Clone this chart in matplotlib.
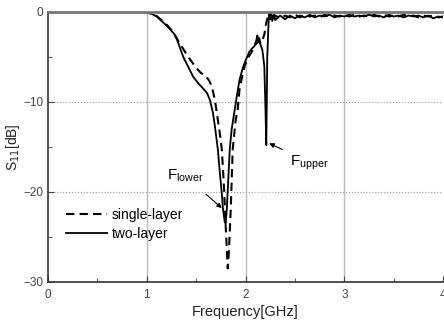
import matplotlib
matplotlib.use("Agg")
import matplotlib.pyplot as plt

plt.rcParams['font.family'] = ['Liberation Sans', 'DejaVu Sans']

# two-layer (solid)
f_two = [0, 0.3, 0.6, 0.9, 1.0, 1.05, 1.1, 1.15, 1.2, 1.25, 1.29, 1.33, 1.37, 1.42,
         1.47, 1.52, 1.57, 1.61, 1.64, 1.67, 1.69, 1.72, 1.74, 1.76, 1.77, 1.79,
         1.80, 1.81, 1.82, 1.84, 1.86, 1.89, 1.92, 1.94, 1.97, 2.0, 2.04, 2.07,
         2.09, 2.11, 2.12, 2.13, 2.14, 2.15, 2.17, 2.19, 2.20, 2.21, 2.215, 2.22,
         2.23, 2.24, 2.25, 2.26, 2.27, 2.29,
         2.3, 2.35, 2.4, 2.45, 2.5, 2.55, 2.6, 2.65, 2.7, 2.75, 2.8, 2.85, 2.9,
         2.95, 3.0, 3.05, 3.1, 3.15, 3.2, 3.25, 3.3, 3.35, 3.4, 3.45, 3.5, 3.55,
         3.6, 3.65, 3.7, 3.75, 3.8, 3.85, 3.9, 3.95, 4.0]
s_two = [0, 0, 0, 0, -0.05, -0.2, -0.5, -1.0, -1.5, -2.1, -2.6, -3.8, -5.0, -6.1,
         -7.2, -7.9, -8.5, -9.0, -9.8, -11.2, -12.7, -15.3, -17.9, -20.2, -21.7, -23.4,
         -23.5, -22.0, -19.8, -15.3, -13.0, -10.9, -8.8, -7.5, -6.3, -5.4, -4.4, -4.0,
         -3.8, -3.1, -2.6, -3.3, -2.9, -3.6, -4.2, -6.0, -10.0, -14.8, -10.0, -5.0,
         -2.0, 0.2, -0.8, 0.0, -1.0, -0.3,
         -0.9, -0.4, -0.8, -0.4, -0.7, -0.4, -0.6, -0.3, -0.6, -0.4, -0.5, -0.3,
         -0.6, -0.4, -0.5, -0.3, -0.5, -0.4, -0.5, -0.3, -0.5, -0.4, -0.6, -0.3,
         -0.5, -0.4, -0.6, -0.4, -0.5, -0.4, -0.6, -0.4, -0.7, -0.5, -0.6]

# single-layer (dashed)
f_one = [0, 0.3, 0.6, 0.9, 1.0, 1.05, 1.1, 1.15, 1.2, 1.25, 1.29, 1.33, 1.38, 1.44,
         1.5, 1.55, 1.59, 1.63, 1.66, 1.69, 1.72, 1.74, 1.76, 1.78, 1.80, 1.82,
         1.83, 1.85, 1.87, 1.90, 1.92, 1.94, 1.96, 1.99, 2.03, 2.07, 2.1, 2.13,
         2.16, 2.19, 2.21, 2.23, 2.25,
         2.3, 2.35, 2.4, 2.45, 2.5, 2.55, 2.6, 2.65, 2.7, 2.75, 2.8, 2.85, 2.9,
         2.95, 3.0, 3.05, 3.1, 3.15, 3.2, 3.25, 3.3, 3.35, 3.4, 3.45, 3.5, 3.55,
         3.6, 3.65, 3.7, 3.75, 3.8, 3.85, 3.9, 3.95, 4.0]
s_one = [0, 0, 0, 0, -0.05, -0.2, -0.45, -0.9, -1.4, -2.0, -2.7, -3.4, -4.3, -5.3,
         -6.2, -6.8, -7.0, -7.6, -8.3, -9.8, -12.0, -13.5, -15.3, -19.0, -24.0, -28.5,
         -27.0, -22.0, -15.3, -12.0, -10.9, -8.5, -7.5, -6.0, -5.0, -4.3, -3.6, -3.3,
         -3.5, -2.5, -1.2, -0.4, -0.5,
         -0.4, -0.7, -0.4, -0.6, -0.3, -0.6, -0.3, -0.5, -0.4, -0.6, -0.3, -0.5,
         -0.4, -0.5, -0.3, -0.5, -0.3, -0.5, -0.4, -0.5, -0.3, -0.5, -0.3, -0.5,
         -0.4, -0.5, -0.3, -0.5, -0.4, -0.6, -0.4, -0.5, -0.4, -0.6, -0.5]

fig = plt.figure(figsize=(4.44, 3.24), dpi=100)
ax = fig.add_axes([0.108, 0.13, 0.89, 0.833])

ax.plot(f_one, s_one, color='k', lw=1.5, ls=(0, (4, 2.5)), label='single-layer')
ax.plot(f_two, s_two, color='k', lw=1.3, label='two-layer')

ax.set_xlim(0, 4)
ax.set_ylim(-30, 0)
ax.set_xticks([0, 1, 2, 3, 4])
ax.set_xticks([0.5, 1.5, 2.5, 3.5], minor=True)
ax.set_yticks([0, -10, -20, -30])
ax.set_yticks([-5, -15, -25], minor=True)
ax.tick_params(which='both', direction='in', labelsize=8.5, labelcolor='#444', color='#444')
ax.tick_params(which='major', length=4)
ax.tick_params(which='minor', length=3)
ax.tick_params(axis='x', pad=5)

for x in [1, 2, 3]:
    ax.axvline(x, color='#bbbbbb', lw=1, zorder=0)
for y in [-10, -20]:
    ax.axhline(y, color='#999999', lw=0.8, ls=':', zorder=0)

for side in ['left', 'bottom']:
    ax.spines[side].set_color('#333')
    ax.spines[side].set_linewidth(1.2)
ax.spines['top'].set_color('#777')
ax.spines['top'].set_linewidth(2.0)
ax.spines['right'].set_visible(False)

ax.set_xlabel('Frequency[GHz]', fontsize=10.5, color='#222', labelpad=3)
ax.set_ylabel('S$_{11}$[dB]', fontsize=10, color='#222', labelpad=1)

ax.annotate('F$_{\\mathregular{lower}}$', xy=(1.76, -21.8), xytext=(1.2, -18.6),
            fontsize=11, arrowprops=dict(arrowstyle='-|>', color='k', lw=0.8,
                                         shrinkA=8, shrinkB=0, mutation_scale=7))
ax.annotate('F$_{\\mathregular{upper}}$', xy=(2.24, -14.6), xytext=(2.45, -17.0),
            fontsize=11, arrowprops=dict(arrowstyle='-|>', color='k', lw=0.8,
                                         shrinkA=4, shrinkB=0, mutation_scale=7))

ax.legend(loc='upper left', bbox_to_anchor=(0.02, 0.31), frameon=False, fontsize=10,
          handlelength=3, handletextpad=0.3, labelspacing=0.35, borderpad=0.2)

fig.savefig('out.png', dpi=100)
